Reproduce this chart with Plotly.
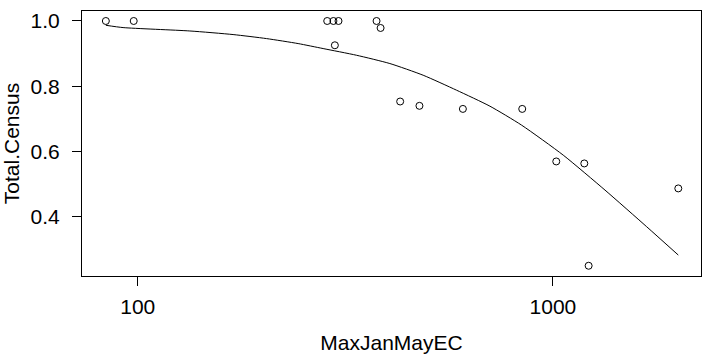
import plotly.graph_objects as go

# Observed census fraction against maximum Jan-May EC
max_jan_may_ec = [83.8, 97.8, 286, 296, 304.5, 298.4, 376, 384.5, 428.6, 477,
                  606.9, 843.4, 1018.6, 1190, 2004, 1219]
total_census = [1.0, 1.0, 1.0, 1.0, 1.0, 0.9256, 1.0, 0.9786, 0.7533, 0.740,
                0.7306, 0.7306, 0.5696, 0.5635, 0.487, 0.25]

# Fitted curve
fit_x = [83.8, 92.2, 133.5, 169.7, 204.2, 243.4, 279.6, 336.5, 404.8, 486.9,
         586.1, 705.2, 840.6, 1058.8, 1334.7, 1682, 2004]
fit_y = [0.9868, 0.9798, 0.9694, 0.9584, 0.9461, 0.9308, 0.9155, 0.895, 0.8696,
         0.8338, 0.7879, 0.7389, 0.6808, 0.5889, 0.4818, 0.3695, 0.2828]

x_ticks = [100, 1000]
y_ticks = [0.4, 0.6, 0.8, 1.0]

font = dict(family="Liberation Sans, Arial, sans-serif", size=21, color="black")

fig = go.Figure()
fig.add_trace(go.Scatter(
    x=max_jan_may_ec, y=total_census, mode="markers",
    marker=dict(symbol="circle-open", size=7, color="black", line=dict(width=1, color="black")),
    showlegend=False, hoverinfo="skip"))
fig.add_trace(go.Scatter(
    x=fit_x, y=fit_y, mode="lines", line_shape="spline",
    line=dict(color="black", width=1, smoothing=0.6), showlegend=False, hoverinfo="skip"))

fig.update_layout(
    width=705, height=360,
    margin=dict(l=82, r=4, t=11, b=84),
    paper_bgcolor="white", plot_bgcolor="white",
    font=font,
    xaxis=dict(
        type="log", range=[1.8658, 3.3566],
        tickmode="array", tickvals=x_ticks, ticktext=[str(v) for v in x_ticks],
        ticks="outside", ticklen=9, tickwidth=1, tickcolor="black",
        showline=True, linecolor="black", linewidth=1, mirror=True,
        showgrid=False, zeroline=False,
        ticklabelstandoff=3,
        title=dict(text="MaxJanMayEC", font=font, standoff=18)),
    yaxis=dict(
        range=[0.2186, 1.0306],
        tickmode="array", tickvals=y_ticks, ticktext=["%.1f" % v for v in y_ticks],
        ticks="outside", ticklen=9, tickwidth=1, tickcolor="black",
        showline=True, linecolor="black", linewidth=1, mirror=True,
        showgrid=False, zeroline=False,
        ticklabelstandoff=8,
        title=dict(text="Total.Census", font=font, standoff=11)),
)

fig.write_html("out.html")
